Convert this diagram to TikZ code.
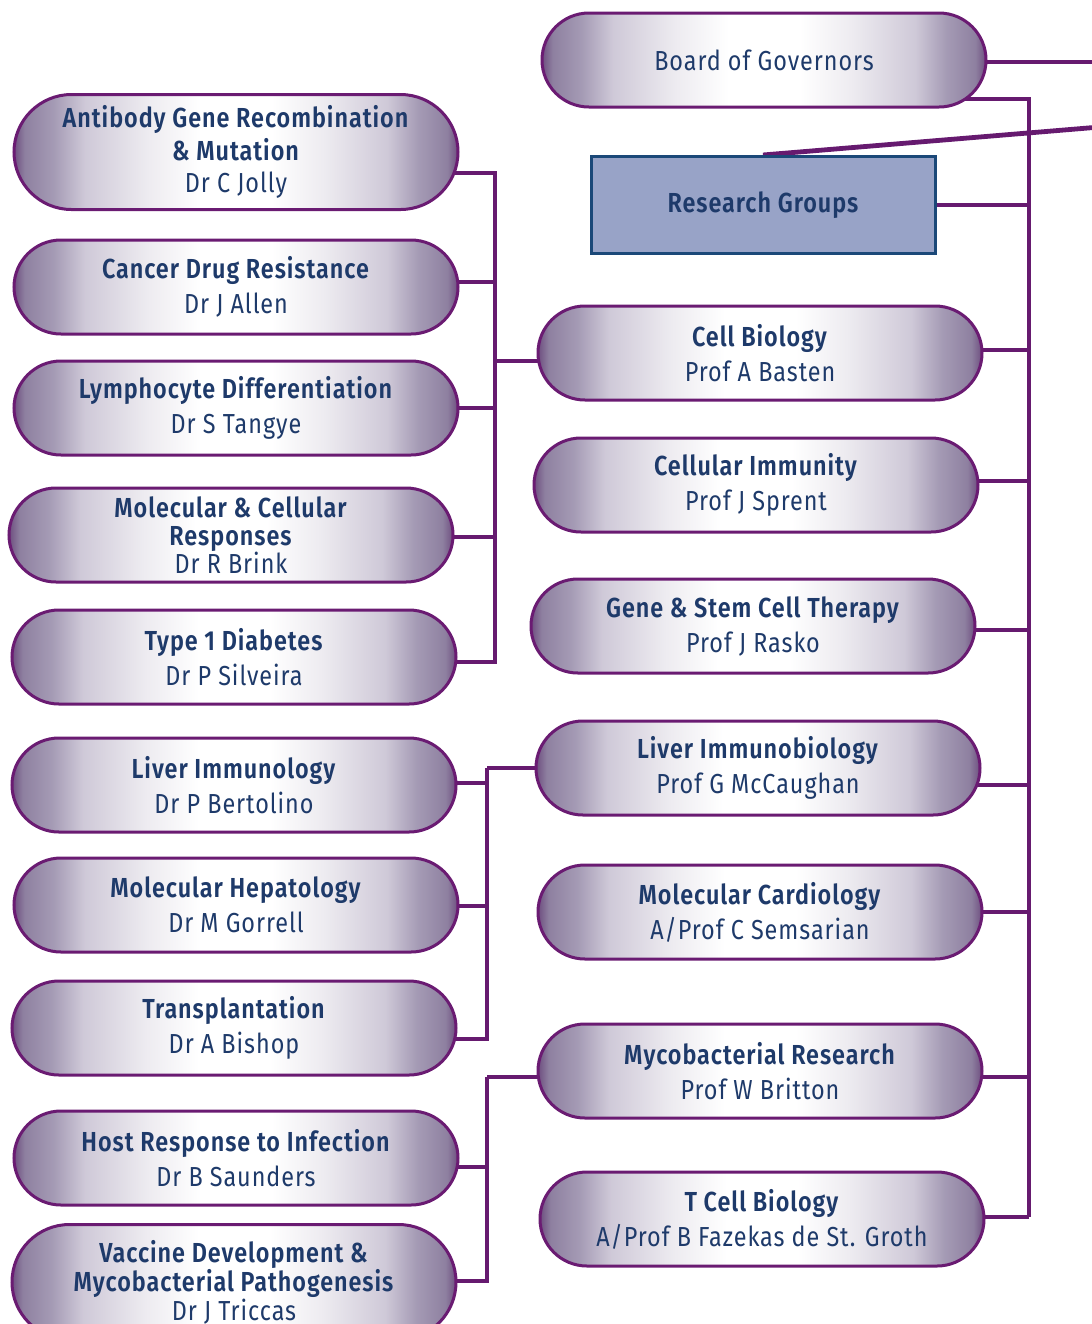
\documentclass[tikz,border=0pt]{standalone}
\usepackage{fontspec}
\setmainfont{Fira Sans}[FakeStretch=0.85, LetterSpace=3.5, BoldFont={* SemiBold}]
\usetikzlibrary{shapes.misc}

\definecolor{linkpurple}{HTML}{661A6F}
\definecolor{pillline}{HTML}{6A1B72}
\definecolor{pilldark}{HTML}{6E4E80}
\definecolor{pillmid}{HTML}{8E80A0}
\definecolor{pilllight}{HTML}{A59BB5}
\definecolor{pillpale}{HTML}{CFC9D8}
\definecolor{pillwhite}{HTML}{EDEBF0}
\definecolor{textblue}{HTML}{1E3A6A}
\definecolor{boxfill}{HTML}{98A3C7}
\definecolor{boxline}{HTML}{1B4878}

\pgfdeclarehorizontalshading{pillshade}{100bp}{color(0bp)=(pilldark); color(25bp)=(pilldark); color(26.2bp)=(pillmid); color(29.5bp)=(pilllight); color(33bp)=(pillpale); color(40bp)=(pillwhite); color(46bp)=(white); color(54bp)=(white); color(60bp)=(pillwhite); color(67bp)=(pillpale); color(70.5bp)=(pilllight); color(73.8bp)=(pillmid); color(75bp)=(pilldark); color(100bp)=(pilldark)}

\pgfdeclarelayer{background}
\pgfsetlayers{background,main}

\tikzset{
	pill/.style={rounded rectangle, draw=pillline, line width=1.5pt, shade, shading=pillshade,
		minimum width=222pt, minimum height=47pt, inner sep=0pt, align=center,
		text=textblue, font=\fontsize{13.75}{17.5}\selectfont},
	tallpill/.style={pill, minimum height=57.5pt, font=\fontsize{13.75}{16.2}\selectfont},
	rgbox/.style={rectangle, draw=boxline, line width=1.5pt, fill=boxfill,
		minimum width=172pt, minimum height=48.5pt, text=textblue,
		font=\fontsize{13.75}{17.5}\selectfont\bfseries},
	link/.style={draw=linkpurple, line width=2.4pt},
}

\begin{document}
\begin{tikzpicture}[x=0.5pt, y=-0.5pt]
	\useasboundingbox (0, 0) rectangle (1092, 1324);

	% right column
	\node [pill] (bog) at (764, 60) {Board of Governors};
	\node [rgbox] (rg) at (763, 205) {Research Groups};
	\node [pill] (cellbio) at (760, 353) {\textbf{Cell Biology}\\Prof A Basten};
	\node [pill] (cellimm) at (756, 485) {\textbf{Cellular Immunity}\\Prof J Sprent};
	\node [pill] (gene) at (753, 626) {\textbf{Gene \& Stem Cell Therapy}\\Prof J Rasko};
	\node [pill] (livbio) at (758, 768) {\textbf{Liver Immunobiology}\\Prof G McCaughan};
	\node [pill] (molcard) at (760, 912) {\textbf{Molecular Cardiology}\\A/Prof C Semsarian};
	\node [pill] (mycores) at (760, 1071) {\textbf{Mycobacterial Research}\\Prof W Britton};
	\node [pill] (tcell) at (762, 1219) {\textbf{T Cell Biology}\\A/Prof B Fazekas de St. Groth};

	% left column
	\node [tallpill] (antibody) at (236, 152) {\textbf{Antibody Gene Recombination}\\\textbf{\& Mutation}\\Dr C Jolly};
	\node [pill] (cancer) at (236, 287) {\textbf{Cancer Drug Resistance}\\Dr J Allen};
	\node [pill] (lympho) at (236, 408) {\textbf{Lymphocyte Differentiation}\\Dr S Tangye};
	\node [pill, font=\fontsize{13.75}{14}\selectfont] (molcell) at (231, 535) {\textbf{Molecular \& Cellular}\\\textbf{Responses}\\Dr R Brink};
	\node [pill] (diabetes) at (234, 657) {\textbf{Type 1 Diabetes}\\Dr P Silveira};
	\node [pill] (livimm) at (234, 785) {\textbf{Liver Immunology}\\Dr P Bertolino};
	\node [pill] (molhep) at (236, 905) {\textbf{Molecular Hepatology}\\Dr M Gorrell};
	\node [pill] (transpl) at (234, 1028) {\textbf{Transplantation}\\Dr A Bishop};
	\node [pill] (host) at (236, 1158) {\textbf{Host Response to Infection}\\Dr B Saunders};
	\node [tallpill, font=\fontsize{13.75}{14.5}\selectfont] (vaccine) at (234, 1282) {\textbf{Vaccine Development \&}\\\textbf{Mycobacterial Pathogenesis}\\Dr J Triccas};

	% bracket corners
	\coordinate (trunk) at (1029, 1217);
	\coordinate (br1) at (495, 361);
	\coordinate (br2) at (487, 768);
	\coordinate (br3) at (487, 1077);
	\coordinate (govout) at (1100, 62);
	\coordinate (rgout) at (1100, 127);

	\begin{pgfonlayer}{background}
		\draw [link] (bog.center) ++(0, 2) -- (govout);
		\draw [link] (rg.north) -- (rgout);

		\draw [link] (bog.center) ++(0, 39) -| (trunk);
		\draw [link] (rg.center) -| (trunk);
		\draw [link] (cellbio.center) ++(0, -3) -| (trunk);
		\draw [link] (cellimm.center) ++(0, -4) -| (trunk);
		\draw [link] (gene.center) ++(0, 4) -| (trunk);
		\draw [link] (livbio.center) ++(0, 17) -| (trunk);
		\draw [link] (molcard.center) -| (trunk);
		\draw [link] (mycores.center) ++(0, 6) -| (trunk);
		\draw [link] (tcell.center) ++(0, -2) -- (trunk);

		\draw [link] (cellbio.center) ++(0, 8) -- (br1);
		\draw [link] (antibody.center) ++(0, 21) -| (br1);
		\draw [link] (cancer.center) ++(0, -5) -| (br1);
		\draw [link] (lympho.center) -| (br1);
		\draw [link] (molcell.center) ++(0, 2) -| (br1);
		\draw [link] (diabetes.center) ++(0, 5) -| (br1);

		\draw [link] (livbio.center) -- (br2);
		\draw [link] (livimm.center) ++(0, -2) -| (br2);
		\draw [link] (molhep.center) ++(0, 1) -| (br2);
		\draw [link] (transpl.center) ++(0, 11) -| (br2);

		\draw [link] (mycores.center) ++(0, 6) -- (br3);
		\draw [link] (host.center) ++(0, 9) -| (br3);
		\draw [link] (vaccine.center) ++(0, -1) -| (br3);
	\end{pgfonlayer}
\end{tikzpicture}
\end{document}
